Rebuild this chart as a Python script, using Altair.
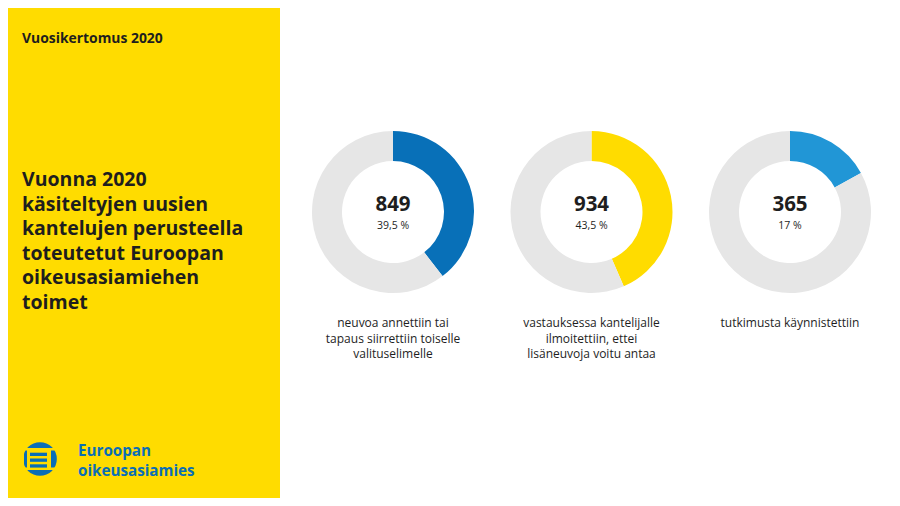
import altair as alt
import pandas as pd

# ---- data ----
header = "Vuosikertomus 2020"
title_lines = [
    "Vuonna 2020",
    "käsiteltyjen uusien",
    "kantelujen perusteella",
    "toteutetut Euroopan",
    "oikeusasiamiehen",
    "toimet",
]
brand_lines = ["Euroopan", "oikeusasiamies"]
categories = ["neuvoa", "vastauksessa", "tutkimusta"]
counts = [849, 934, 365]
shares = ["39,5 %", "43,5 %", "17 %"]
label_lines = [
    ["neuvoa annettiin tai", "tapaus siirrettiin toiselle", "valituselimelle"],
    ["vastauksessa kantelijalle", "ilmoitettiin, ettei", "lisäneuvoja voitu antaa"],
    ["tutkimusta käynnistettiin"],
]
rest_name = "muut"

# ---- style ----
FONT = "Open Sans"
YELLOW = "#FFDC00"
BLUE = "#0A6EB6"
DARK = "#1E1E1E"
seg_colors = ["#0870B8", "#FFDC00", "#2196D6", "#E6E6E6"]
W, H = 884, 490
centers_x = [385, 583.5, 782]
center_y = 204

total = sum(counts)
rows = []
for i, (cat, v) in enumerate(zip(categories, counts)):
    rows.append({"donut": i, "part": cat, "amount": v, "ord": 0})
    rows.append({"donut": i, "part": rest_name, "amount": total - v, "ord": 1})
arcs_df = pd.DataFrame(rows)

one = pd.DataFrame({"a": [0]})
color_scale = alt.Scale(domain=categories + [rest_name], range=seg_colors)

layers = []

# yellow side panel
layers.append(
    alt.Chart(one).mark_rect(color=YELLOW).encode(
        x=alt.value(0), x2=alt.value(272), y=alt.value(0), y2=alt.value(H)
    )
)

# header
layers.append(
    alt.Chart(pd.DataFrame({"t": [header]})).mark_text(
        font=FONT, fontSize=13.9, fontWeight="bold", color=DARK,
        align="left", baseline="alphabetic"
    ).encode(text="t:N", x=alt.value(14), y=alt.value(34.7))
)

# title block
layers.append(
    alt.Chart(pd.DataFrame({"t": ["\n".join(title_lines)]})).mark_text(
        font=FONT, fontSize=19.5, fontWeight="bold", color=DARK,
        align="left", baseline="alphabetic", lineBreak="\n", lineHeight=24.6
    ).encode(text="t:N", x=alt.value(14), y=alt.value(178))
)

# logo
layers.append(
    alt.Chart(one).mark_circle(size=3.1416 * 19 * 19, color=BLUE, opacity=1).encode(
        x=alt.value(32), y=alt.value(451)
    )
)
layers.append(
    alt.Chart(one).mark_rect(color=YELLOW).encode(
        x=alt.value(19), x2=alt.value(43), y=alt.value(441), y2=alt.value(461)
    )
)
for (y1, y2) in [(440, 442.5), (459.5, 462)]:
    layers.append(
        alt.Chart(one).mark_rect(color=YELLOW).encode(
            x=alt.value(11), x2=alt.value(53), y=alt.value(y1), y2=alt.value(y2)
        )
    )
layers.append(
    alt.Chart(one).mark_rect(color=YELLOW).encode(
        x=alt.value(11), x2=alt.value(16), y=alt.value(442), y2=alt.value(460)
    )
)
for (y1, y2) in [(444.7, 448), (450.5, 453.8), (456.3, 459.6)]:
    layers.append(
        alt.Chart(one).mark_rect(color=BLUE).encode(
            x=alt.value(22), x2=alt.value(39), y=alt.value(y1), y2=alt.value(y2)
        )
    )
for j, line in enumerate(brand_lines):
    layers.append(
        alt.Chart(pd.DataFrame({"t": [line]})).mark_text(
            font=FONT, fontSize=15.2, fontWeight="bold", color=BLUE,
            align="left", baseline="alphabetic"
        ).encode(text="t:N", x=alt.value(70), y=alt.value(448.2 + 20 * j))
    )

# donuts
for i, cx in enumerate(centers_x):
    layers.append(
        alt.Chart(arcs_df).transform_filter(alt.datum.donut == i).mark_arc(
            outerRadius=81, innerRadius=51, stroke=None
        ).encode(
            theta=alt.Theta("amount:Q", stack=True),
            color=alt.Color("part:N", scale=color_scale, legend=None),
            order=alt.Order("ord:Q"),
            x=alt.value(cx), y=alt.value(center_y),
        )
    )
    layers.append(
        alt.Chart(pd.DataFrame({"t": [str(counts[i])]})).mark_text(
            font=FONT, fontSize=20.5, fontWeight="bold", color=DARK,
            align="center", baseline="alphabetic"
        ).encode(text="t:N", x=alt.value(cx), y=alt.value(202.5))
    )
    layers.append(
        alt.Chart(pd.DataFrame({"t": [shares[i]]})).mark_text(
            font=FONT, fontSize=10.5, color=DARK,
            align="center", baseline="alphabetic"
        ).encode(text="t:N", x=alt.value(cx), y=alt.value(220.5))
    )
    layers.append(
        alt.Chart(pd.DataFrame({"t": ["\n".join(label_lines[i])]})).mark_text(
            font=FONT, fontSize=12, color=DARK,
            align="center", baseline="alphabetic", lineBreak="\n", lineHeight=15.5
        ).encode(text="t:N", x=alt.value(cx), y=alt.value(319))
    )

chart = alt.layer(*layers).properties(
    width=W, height=H, padding=0, autosize="none", background="white"
).configure_view(stroke=None)

chart.save("out.html", embed_options={"renderer": "svg", "actions": False})
